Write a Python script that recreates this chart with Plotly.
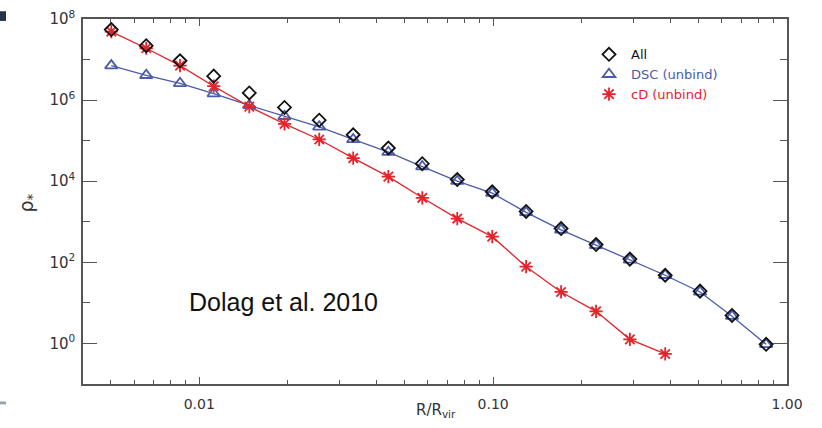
import plotly.graph_objects as go

# ---- data ----
r_all = [0.00502, 0.0066, 0.0086, 0.0112, 0.0148, 0.0195, 0.0256, 0.0334, 0.0440, 0.0574,
         0.0755, 0.0993, 0.1295, 0.1703, 0.224, 0.292, 0.385, 0.506, 0.650, 0.849]
rho_all = [5.5e7, 2.2e7, 9.3e6, 3.9e6, 1.5e6, 6.6e5, 3.2e5, 1.4e5, 6.6e4, 2.7e4,
           1.1e4, 5.5e3, 1.8e3, 680, 275, 120, 48, 19.5, 4.9, 0.95]
rho_dsc = [7.1e6, 4.1e6, 2.6e6, 1.45e6, 7.4e5, 4.0e5, 2.2e5, 1.07e5, 5.2e4, 2.3e4,
           1.0e4, 5.1e3, 1.7e3, 630, 263, 115, 48, 18.6, 4.7, 0.95]
r_cd = r_all[:17]
rho_cd = [4.9e7, 1.9e7, 7.1e6, 2.2e6, 6.9e5, 2.6e5, 1.07e5, 3.7e4, 1.3e4, 3.9e3,
          1.2e3, 430, 78, 18.6, 6.2, 1.26, 0.55]

x_tickvals = [0.01, 0.1, 1.0]
x_ticktext = ["0.01", "0.10", "1.00"]
x_minor = [0.005, 0.006, 0.007, 0.008, 0.009, 0.02, 0.03, 0.04, 0.05, 0.06, 0.07, 0.08, 0.09,
           0.2, 0.3, 0.4, 0.5, 0.6, 0.7, 0.8, 0.9]
y_tickvals = [1, 1e2, 1e4, 1e6, 1e8]
y_ticktext = ["10<sup>0</sup>", "10<sup>2</sup>", "10<sup>4</sup>", "10<sup>6</sup>", "10<sup>8</sup>"]
y_minor = [10, 1e3, 1e5, 1e7]

BLUE = "#4B5BAA"
RED = "#E5232A"
BLACK = "#111111"
AX = "#555555"

fig = go.Figure()
# lines
fig.add_trace(go.Scatter(x=r_all, y=rho_dsc, mode="lines", line=dict(color=BLUE, width=1.3),
                         showlegend=False, hoverinfo="skip"))
fig.add_trace(go.Scatter(x=r_cd, y=rho_cd, mode="lines", line=dict(color=RED, width=1.3),
                         showlegend=False, hoverinfo="skip"))
# markers
fig.add_trace(go.Scatter(x=r_all, y=rho_dsc, mode="markers", legendrank=2,
                         name=f"<span style='color:{BLUE}'>DSC (unbind)</span>",
                         marker=dict(symbol="triangle-up-open", size=11, color=BLUE,
                                     line=dict(width=1.8, color=BLUE))))
fig.add_trace(go.Scatter(x=r_cd, y=rho_cd, mode="markers", legendrank=3,
                         name=f"<span style='color:{RED}'>cD (unbind)</span>",
                         marker=dict(symbol="asterisk-open", size=11, color=RED,
                                     line=dict(width=1.8, color=RED))))
fig.add_trace(go.Scatter(x=r_all, y=rho_all, mode="markers", legendrank=1,
                         name=f"<span style='color:{BLACK}'>All</span>",
                         marker=dict(symbol="diamond-open", size=10, color=BLACK,
                                     line=dict(width=1.8, color=BLACK))))

L, R, T, B = 83, 35, 8, 44
W, H = 822, 428
pw, ph = W - L - R, H - T - B

def px(xp):
    return (xp - L) / pw

def py(yp):
    return (H - B - yp) / ph

fig.update_layout(
    width=W, height=H,
    margin=dict(l=L, r=R, t=T, b=B),
    paper_bgcolor="white", plot_bgcolor="white",
    font=dict(family="DejaVu Sans", size=14, color="#333333"),
    showlegend=True,
    legend=dict(x=px(587), y=py(29), xanchor="left", yanchor="top",
                bgcolor="rgba(0,0,0,0)", borderwidth=0, itemwidth=34,
                font=dict(family="DejaVu Sans", size=13), tracegroupgap=0),
    xaxis=dict(type="log", range=[-2.3956, 0.0], showgrid=False, zeroline=False,
               showline=True, linecolor=AX, linewidth=1.6, mirror="ticks",
               ticks="inside", ticklen=7, tickwidth=1.4, tickcolor=AX,
               tickmode="array", tickvals=x_tickvals, ticktext=x_ticktext,
               ticklabelstandoff=6, ticklabeloverflow="allow",
               tickfont=dict(family="DejaVu Sans", size=14, color="#333333"),
               minor=dict(ticks="inside", ticklen=4, tickwidth=1.2, tickcolor=AX,
                          tickmode="array", tickvals=x_minor, showgrid=False)),
    yaxis=dict(type="log", range=[-1, 8], showgrid=False, zeroline=False,
               showline=True, linecolor=AX, linewidth=1.6, mirror="ticks",
               ticks="inside", ticklen=14, tickwidth=1.4, tickcolor=AX,
               tickmode="array", tickvals=y_tickvals, ticktext=y_ticktext,
               ticklabelstandoff=3, ticklabeloverflow="allow",
               tickfont=dict(family="DejaVu Sans", size=15, color="#333333"),
               minor=dict(ticks="inside", ticklen=7, tickwidth=1.2, tickcolor=AX,
                          tickmode="array", tickvals=y_minor, showgrid=False)),
    annotations=[
        dict(text="Dolag et al. 2010", xref="paper", yref="paper", x=px(283), y=py(300),
             xanchor="center", yanchor="middle", showarrow=False,
             font=dict(family="Liberation Sans", size=25, color="#111111")),
        dict(text="R/R<sub>vir</sub>", xref="paper", yref="paper", x=px(436), y=py(411),
             xanchor="center", yanchor="middle", showarrow=False,
             font=dict(family="DejaVu Sans", size=15, color="#333333")),
        dict(text="ρ<sub>*</sub>", xref="paper", yref="paper", x=px(27), y=py(198),
             xanchor="center", yanchor="middle", showarrow=False, textangle=-90,
             font=dict(family="DejaVu Sans", size=19, color="#333333")),
    ],
    shapes=[
        dict(type="rect", xref="paper", yref="paper", x0=px(0), x1=px(6), y0=py(10), y1=py(0),
             fillcolor="#243447", line=dict(width=0), layer="above"),
        dict(type="rect", xref="paper", yref="paper", x0=px(0), x1=px(6), y0=py(405), y1=py(402),
             fillcolor="#9aa4a8", line=dict(width=0), layer="above"),
    ],
)

fig.write_html("out.html", config={"displayModeBar": False})

# remove the browser's default 8px body margin so the figure sits at (0, 0)
with open("out.html", "r", encoding="utf-8") as f:
    html = f.read()
html = html.replace("<body>", '<body style="margin:0;padding:0;overflow:hidden">', 1)
with open("out.html", "w", encoding="utf-8") as f:
    f.write(html)
